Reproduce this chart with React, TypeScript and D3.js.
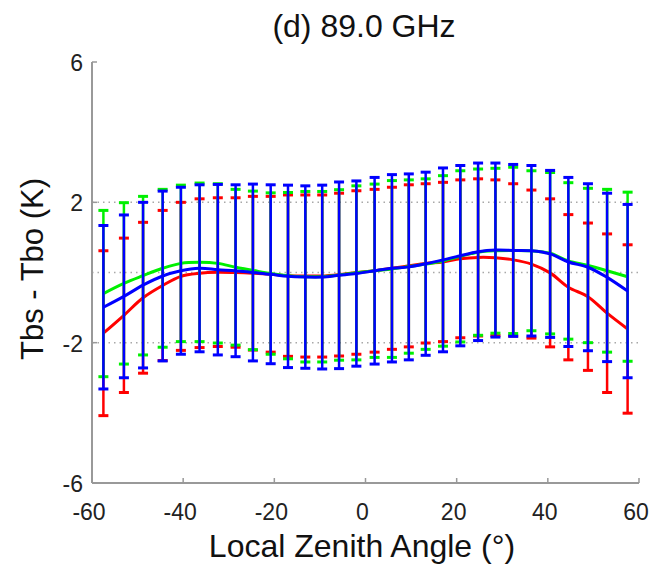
import React, { useEffect, useRef } from 'react';
import * as d3 from 'd3';

// local zenith angle of each scan position
const angles = [-57.5, -53.0, -48.8, -44.5, -40.5, -36.4, -32.4, -28.5, -24.7, -20.8, -17.0, -13.2, -9.5, -5.8, -2.0,
  2.0, 5.8, 9.5, 13.2, 17.0, 20.8, 24.7, 28.5, 32.4, 36.4, 40.5, 44.5, 48.8, 53.0, 57.5];

const redMean = [-1.73, -1.22, -0.72, -0.37, -0.11, -0.02, 0.01, 0.0, -0.02, -0.05, -0.09, -0.10, -0.10, -0.06, 0.0,
  0.05, 0.12, 0.19, 0.26, 0.30, 0.39, 0.43, 0.42, 0.36, 0.24, -0.01, -0.42, -0.69, -1.16, -1.61];
const redStd = [2.35, 2.2, 2.15, 2.14, 2.11, 2.12, 2.12, 2.13, 2.19, 2.22, 2.30, 2.31, 2.31, 2.32, 2.33,
  2.32, 2.31, 2.31, 2.27, 2.27, 2.25, 2.24, 2.22, 2.17, 2.11, 2.11, 2.07, 2.1, 2.26, 2.4];

const greenMean = [-0.60, -0.31, -0.09, 0.12, 0.26, 0.29, 0.26, 0.15, 0.06, -0.03, -0.09, -0.12, -0.12, -0.07, -0.01,
  0.05, 0.10, 0.17, 0.24, 0.33, 0.46, 0.58, 0.62, 0.63, 0.62, 0.55, 0.33, 0.20, 0.05, -0.12];
const greenStd = [2.37, 2.30, 2.26, 2.25, 2.23, 2.26, 2.27, 2.22, 2.26, 2.3, 2.37, 2.43, 2.43, 2.43, 2.48,
  2.47, 2.52, 2.47, 2.43, 2.43, 2.44, 2.37, 2.35, 2.37, 2.28, 2.3, 2.23, 2.2, 2.32, 2.41];

const blueMean = [-0.99, -0.68, -0.36, -0.10, 0.05, 0.12, 0.08, 0.05, 0.0, -0.05, -0.11, -0.13, -0.13, -0.08, -0.03,
  0.05, 0.12, 0.16, 0.25, 0.36, 0.48, 0.59, 0.64, 0.63, 0.62, 0.53, 0.30, 0.15, -0.14, -0.53];
const blueStd = [2.33, 2.32, 2.36, 2.42, 2.38, 2.38, 2.43, 2.45, 2.52, 2.55, 2.6, 2.6, 2.62, 2.66, 2.64,
  2.66, 2.67, 2.65, 2.61, 2.62, 2.57, 2.53, 2.48, 2.45, 2.43, 2.38, 2.41, 2.38, 2.40, 2.47];

const xTicks = [-60, -40, -20, 0, 20, 40, 60];
const yTicks = [-6, -2, 2, 6];
const gridLines = [-2, 0, 2];

const series = [
  { color: '#ff0000', mean: redMean, std: redStd },
  { color: '#00f000', mean: greenMean, std: greenStd },
  { color: '#0000ff', mean: blueMean, std: blueStd },
];

const App = () => {
  const ref = useRef<SVGSVGElement>(null);

  useEffect(() => {
    const svg = d3.select(ref.current);
    svg.selectAll('*').remove();

    const x = d3.scaleLinear().domain([-60, 60]).range([92, 639]);
    const y = d3.scaleLinear().domain([-6, 6]).range([483, 62]);
    const font = 'Liberation Sans, Arial, Helvetica, sans-serif';

    // dotted grid
    svg.selectAll('.grid')
      .data(gridLines)
      .enter().append('line')
      .attr('x1', x(-60)).attr('x2', x(60))
      .attr('y1', d => y(d)).attr('y2', d => y(d))
      .attr('stroke', '#a8a8a8')
      .attr('stroke-width', 1.5)
      .attr('stroke-dasharray', '1.5,4');

    // axes
    const axisColor = '#999';
    svg.append('line')
      .attr('x1', x(-60)).attr('x2', x(-60))
      .attr('y1', y(-6)).attr('y2', y(6))
      .attr('stroke', axisColor).attr('stroke-width', 2);
    svg.append('line')
      .attr('x1', x(-60)).attr('x2', x(60))
      .attr('y1', y(-6)).attr('y2', y(-6))
      .attr('stroke', axisColor).attr('stroke-width', 2);

    svg.selectAll('.xtick')
      .data(xTicks)
      .enter().append('line')
      .attr('x1', d => x(d)).attr('x2', d => x(d))
      .attr('y1', y(-6)).attr('y2', y(-6) - 5)
      .attr('stroke', axisColor).attr('stroke-width', 1.5);
    svg.selectAll('.ytick')
      .data(yTicks)
      .enter().append('line')
      .attr('x1', x(-60)).attr('x2', x(-60) + 5)
      .attr('y1', d => y(d)).attr('y2', d => y(d))
      .attr('stroke', axisColor).attr('stroke-width', 1.5);

    svg.selectAll('.xlabel')
      .data(xTicks)
      .enter().append('text')
      .attr('x', d => x(d) - 3)
      .attr('y', 520)
      .attr('text-anchor', 'middle')
      .attr('font-family', font)
      .attr('font-size', 23)
      .attr('fill', '#222')
      .text(d => d);
    svg.selectAll('.ylabel')
      .data(yTicks)
      .enter().append('text')
      .attr('x', x(-60) - 9)
      .attr('y', d => y(d) + 9)
      .attr('text-anchor', 'end')
      .attr('font-family', font)
      .attr('font-size', 23)
      .attr('fill', '#222')
      .text(d => d);

    // series: mean line + std error bars
    const line = d3.line<number>()
      .x((_, i) => x(angles[i]))
      .y(d => y(d))
      .curve(d3.curveCatmullRom);

    series.forEach(s => {
      svg.append('path')
        .datum(s.mean)
        .attr('d', line)
        .attr('fill', 'none')
        .attr('stroke', s.color)
        .attr('stroke-width', 3);

      const g = svg.append('g').attr('stroke', s.color);
      g.selectAll('.stem')
        .data(s.mean)
        .enter().append('line')
        .attr('x1', (_, i) => x(angles[i])).attr('x2', (_, i) => x(angles[i]))
        .attr('y1', (d, i) => y(d + s.std[i])).attr('y2', (d, i) => y(d - s.std[i]))
        .attr('stroke-width', 2.5);
      [1, -1].forEach(sign => {
        g.selectAll('.cap' + sign)
          .data(s.mean)
          .enter().append('line')
          .attr('x1', (_, i) => x(angles[i]) - 5).attr('x2', (_, i) => x(angles[i]) + 5)
          .attr('y1', (d, i) => y(d + sign * s.std[i])).attr('y2', (d, i) => y(d + sign * s.std[i]))
          .attr('stroke-width', 3);
      });
    });

    // titles
    svg.append('text')
      .attr('x', 364).attr('y', 37)
      .attr('text-anchor', 'middle')
      .attr('font-family', font)
      .attr('font-size', 32)
      .attr('fill', '#111')
      .text('(d) 89.0 GHz');

    svg.append('text')
      .attr('x', 362).attr('y', 557)
      .attr('text-anchor', 'middle')
      .attr('font-family', font)
      .attr('font-size', 32)
      .attr('fill', '#111')
      .text('Local Zenith Angle (°)');

    svg.append('text')
      .attr('transform', 'translate(43,269) rotate(-90)')
      .attr('text-anchor', 'middle')
      .attr('font-family', font)
      .attr('font-size', 31)
      .attr('fill', '#111')
      .text('Tbs - Tbo (K)');
  }, []);

  return (
    <svg ref={ref} width={659} height={567}
      style={{ position: 'absolute', left: 0, top: 0, background: '#fff' }} />
  );
};

export default App;
